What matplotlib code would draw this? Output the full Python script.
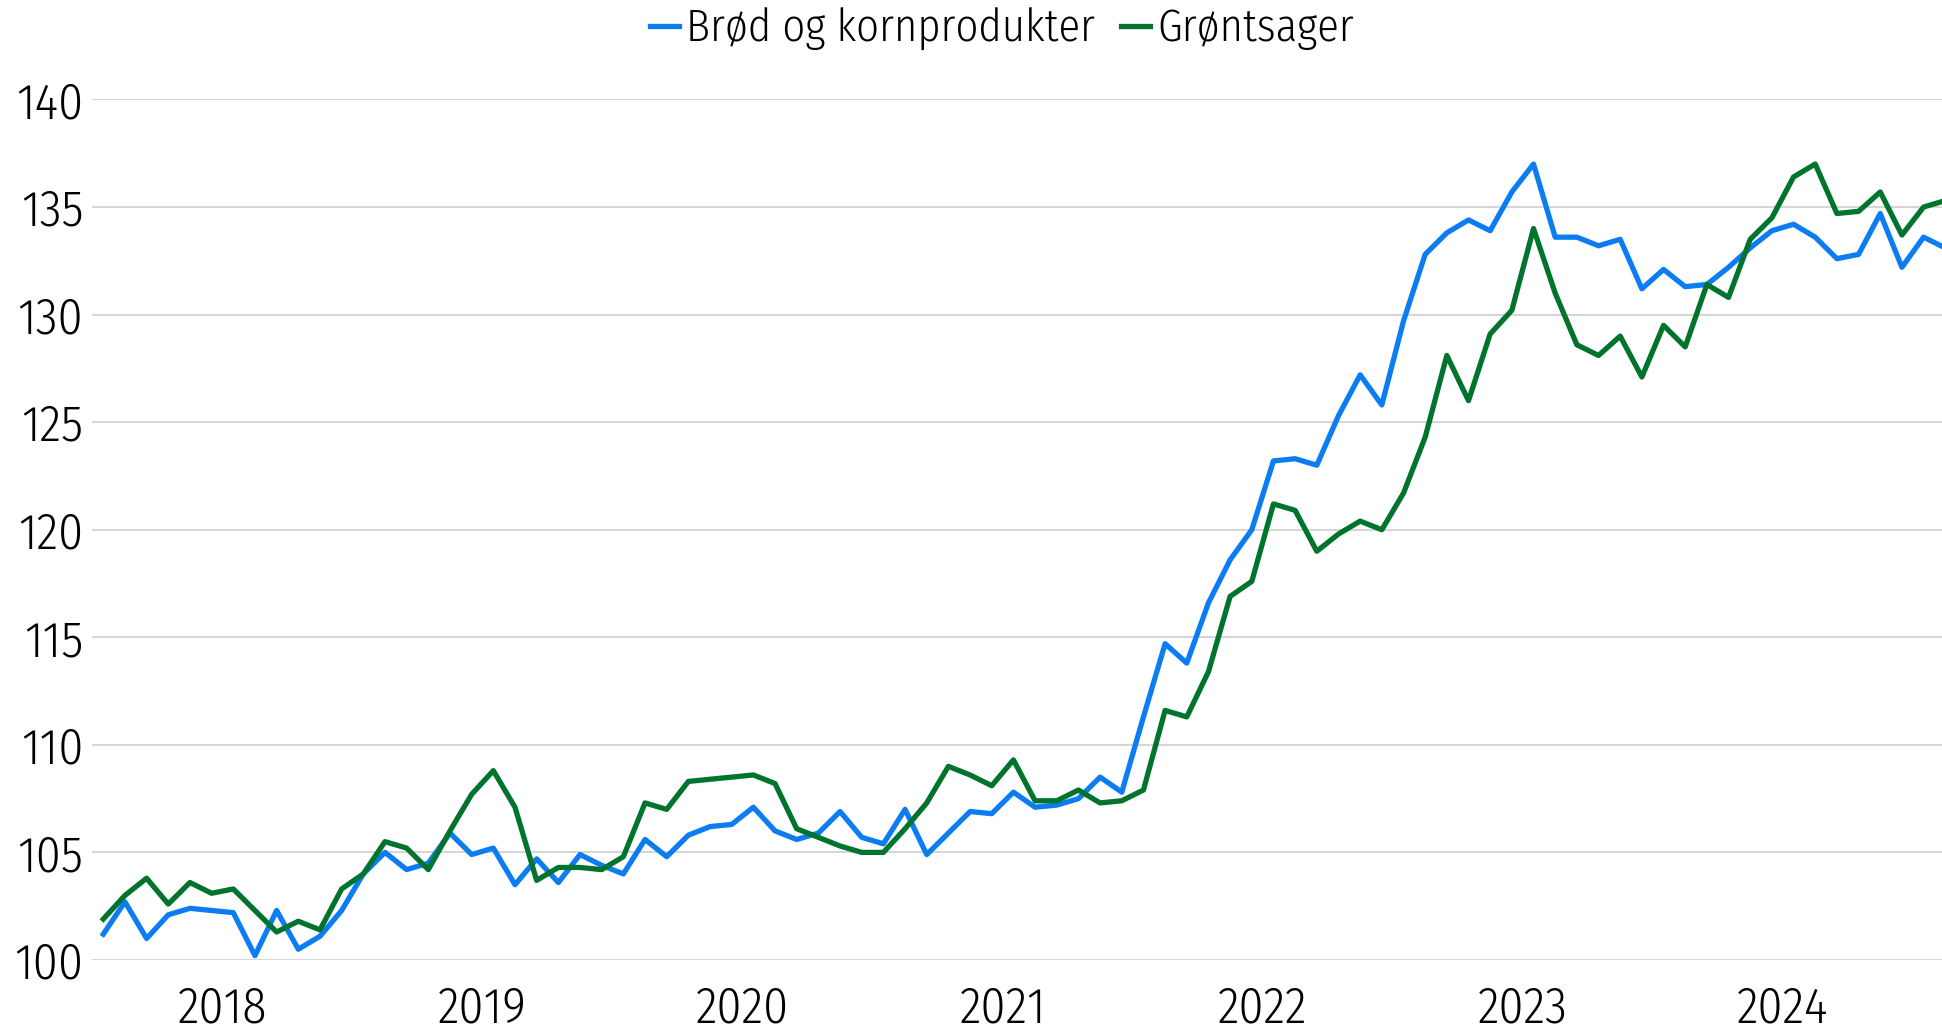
import numpy as np
from matplotlib import pyplot as plt

# monthly index, Jan 2018 = 0
years = ["2018", "2019", "2020", "2021", "2022", "2023", "2024"]

brod = [101.2, 102.7, 101.0, 102.1, 102.4, 102.3, 102.2, 100.2, 102.3, 100.5,
        101.1, 102.3, 104.0, 105.0, 104.2, 104.5, 105.9, 104.9, 105.2, 103.5,
        104.7, 103.6, 104.9, 104.4, 104.0, 105.6, 104.8, 105.8, 106.2, 106.3,
        107.1, 106.0, 105.6, 105.9, 106.9, 105.7, 105.4, 107.0, 104.9, 105.9,
        106.9, 106.8, 107.8, 107.1, 107.2, 107.5, 108.5, 107.8, 111.3, 114.7,
        113.8, 116.6, 118.6, 120.0, 123.2, 123.3, 123.0, 125.3, 127.2, 125.8,
        129.7, 132.8, 133.8, 134.4, 133.9, 135.7, 137.0, 133.6, 133.6, 133.2,
        133.5, 131.2, 132.1, 131.3, 131.4, 132.2, 133.1, 133.9, 134.2, 133.6,
        132.6, 132.8, 134.7, 132.2, 133.6, 133.1]

gront = [101.9, 103.0, 103.8, 102.6, 103.6, 103.1, 103.3, 102.3, 101.3, 101.8,
         101.4, 103.3, 104.0, 105.5, 105.2, 104.2, 106.0, 107.7, 108.8, 107.1,
         103.7, 104.3, 104.3, 104.2, 104.8, 107.3, 107.0, 108.3, 108.4, 108.5,
         108.6, 108.2, 106.1, 105.7, 105.3, 105.0, 105.0, 106.1, 107.3, 109.0,
         108.6, 108.1, 109.3, 107.4, 107.4, 107.9, 107.3, 107.4, 107.9, 111.6,
         111.3, 113.4, 116.9, 117.6, 121.2, 120.9, 119.0, 119.8, 120.4, 120.0,
         121.7, 124.3, 128.1, 126.0, 129.1, 130.2, 134.0, 131.0, 128.6, 128.1,
         129.0, 127.1, 129.5, 128.5, 131.4, 130.8, 133.5, 134.5, 136.4, 137.0,
         134.7, 134.8, 135.7, 133.7, 135.0, 135.3]

plt.rcParams['font.family'] = ['Fira Sans Condensed', 'Asap Condensed', 'DejaVu Sans']
plt.rcParams['font.weight'] = 300

fig = plt.figure(figsize=(19.42, 10.31), dpi=100)
ax = fig.add_axes([0.0472, 0.0689, 0.9528, 0.8346])

x = np.arange(len(brod))
ax.plot(x, brod, color='#0b7cf2', lw=3.8, label='Brød og kornprodukter', clip_on=False)
ax.plot(x, gront, color='#00732c', lw=3.8, label='Grøntsager', clip_on=False)

ax.set_xlim(-0.535, 84.85)
ax.set_ylim(100, 140)
ax.set_yticks(np.arange(100, 141, 5))
ax.set_xticks(np.arange(len(years)) * 12 + 5.5)
ax.set_xticklabels(years)
ax.grid(axis='y', color='#d2d2d2', lw=1.3)
ax.set_axisbelow(True)
for s in ax.spines.values():
    s.set_visible(False)
ax.tick_params(length=0, labelsize=36)
ax.tick_params(axis='x', pad=18)
ax.tick_params(axis='y', pad=6)

fig.legend(loc='center', bbox_to_anchor=(1002 / 1942, 1 - 29 / 1031), ncol=2,
           frameon=False, fontsize=32, handlelength=0.65, handletextpad=0.15,
           columnspacing=0.6)

fig.savefig('out.png', dpi=100)
